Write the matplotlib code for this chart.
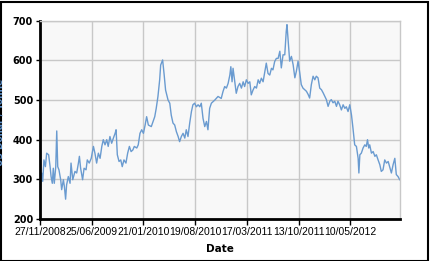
import matplotlib
matplotlib.use("Agg")
import matplotlib.pyplot as plt
import pandas as pd
import numpy as np

# Data (days since 27/11/2008, price in US$/tonne)
start_date = "2008-11-27"
days = [0, 7, 11, 16, 22, 27, 35, 41, 45, 50, 54, 58, 64, 68, 72, 77, 84, 88, 95, 99,
        104, 108, 115, 122, 126, 133, 142, 149, 156, 160, 165, 173, 179, 187, 192, 200,
        208, 217, 223, 230, 237, 244, 251, 257, 264, 271, 277, 284, 291, 298, 305, 309,
        314, 321, 328, 334, 341, 349, 356, 363, 370, 377, 383, 393, 399, 406, 413, 420,
        427, 433, 440, 452, 466, 472, 479, 486, 490, 498, 504, 510, 520, 527, 533, 540,
        547, 554, 561, 567, 574, 581, 588, 594, 601, 608, 615, 621, 628, 635, 642, 649,
        655, 662, 669, 676, 682, 689, 696, 710, 723, 736, 743, 750, 757, 764, 771, 775,
        780, 784, 791, 797, 804, 811, 818, 825, 831, 838, 845, 852, 858, 865, 872, 879,
        886, 892, 899, 906, 913, 919, 926, 933, 940, 946, 953, 960, 967, 974, 980, 987,
        994, 1000, 1003, 1007, 1014, 1021, 1028, 1035, 1041, 1048, 1055, 1061, 1068,
        1075, 1082, 1089, 1095, 1102, 1109, 1116, 1122, 1129, 1136, 1143, 1150, 1156,
        1163, 1170, 1177, 1183, 1190, 1197, 1204, 1210, 1217, 1224, 1231, 1238, 1244,
        1251, 1258, 1265, 1271, 1275, 1278, 1285, 1292, 1295, 1299, 1305, 1312, 1319,
        1325, 1330, 1335, 1339, 1346, 1353, 1360, 1366, 1373, 1380, 1386, 1393, 1400,
        1407, 1414, 1420, 1427, 1434, 1441, 1447, 1454, 1461]
prices = [269, 316, 295, 349, 332, 366, 362, 332, 307, 290, 328, 290, 332, 422, 332, 324,
          299, 274, 299, 282, 250, 286, 307, 290, 341, 299, 320, 316, 341, 358, 328, 299,
          328, 324, 349, 341, 353, 383, 366, 341, 366, 353, 383, 400, 387, 400, 383, 408,
          391, 404, 416, 425, 362, 345, 349, 332, 349, 341, 366, 383, 370, 374, 383, 379,
          387, 416, 425, 416, 437, 458, 437, 433, 458, 479, 509, 551, 588, 601, 565, 525,
          500, 492, 462, 442, 437, 420, 408, 395, 408, 416, 404, 425, 408, 442, 471, 488,
          492, 483, 488, 483, 492, 454, 433, 446, 425, 479, 492, 500, 509, 504, 521, 534,
          530, 542, 563, 584, 546, 580, 546, 517, 534, 542, 530, 546, 534, 551, 542, 546,
          513, 525, 534, 530, 551, 542, 555, 546, 572, 593, 567, 563, 580, 576, 597, 605,
          605, 623, 581, 614, 614, 673, 690, 656, 598, 610, 589, 556, 572, 598, 568, 539,
          530, 526, 522, 514, 505, 539, 560, 551, 560, 556, 530, 526, 518, 510, 501, 484,
          497, 501, 493, 497, 484, 497, 488, 475, 488, 479, 483, 471, 488, 462, 429, 404,
          387, 383, 353, 316, 362, 366, 379, 387, 383, 400, 379, 387, 366, 370, 358, 362,
          349, 337, 320, 324, 349, 341, 345, 332, 316, 337, 353, 312, 307, 299]
tick_labels = ["27/11/2008", "25/06/2009", "21/01/2010", "19/08/2010",
               "17/03/2011", "13/10/2011", "10/05/2012"]
y_ticks = [200, 300, 400, 500, 600, 700]

dates = pd.Timestamp(start_date) + pd.to_timedelta(days, unit="D")
tick_dates = pd.to_datetime(tick_labels, format="%d/%m/%Y")

W, H = 430, 261
fig = plt.figure(figsize=(W / 100, H / 100), dpi=100)
fig.patch.set_facecolor("white")
ax = fig.add_axes([40 / W, (H - 219) / H, 360 / W, (219 - 20.7) / H])
ax.set_facecolor("#f8f8f8")

ax.plot(dates, prices, color="#6a9bd0", lw=1.0)

ax.set_ylim(200, 700)
ax.set_yticks(y_ticks)
ax.set_xlim(pd.Timestamp(start_date), pd.Timestamp(start_date) + pd.Timedelta(days=1462))
ax.set_xticks(tick_dates)
ax.set_xticklabels(tick_labels, fontsize=7.5, family="Liberation Sans")
ax.set_yticklabels([str(v) for v in y_ticks], fontsize=7, fontweight="bold",
                   family="DejaVu Sans")
ax.grid(True, color="#c8c8c8", lw=1.0)
ax.set_axisbelow(True)
for s in ["top", "right"]:
    ax.spines[s].set_color("#c8c8c8")
    ax.spines[s].set_linewidth(1.0)
for s in ["left", "bottom"]:
    ax.spines[s].set_color("black")
    ax.spines[s].set_linewidth(2.0)
ax.tick_params(axis="y", length=3, width=1, pad=2, colors="black")
ax.tick_params(axis="x", length=4, width=1, pad=2, colors="black")

ax.set_xlabel("Date", fontsize=7.5, fontweight="bold", labelpad=5)

fig.text(0.0, (H - 122) / H, "US Dollar / Tonne", rotation=90, ha="center",
         va="center", fontsize=6.5, fontweight="bold", color="#5b8fc9")

border = plt.Rectangle((0.5 / W, 0.5 / H), 1 - 2.5 / W, 1 - 2.5 / H,
                       transform=fig.transFigure, fill=False, ec="black", lw=1.5)
fig.patches.append(border)

fig.savefig("out.png", dpi=100)
